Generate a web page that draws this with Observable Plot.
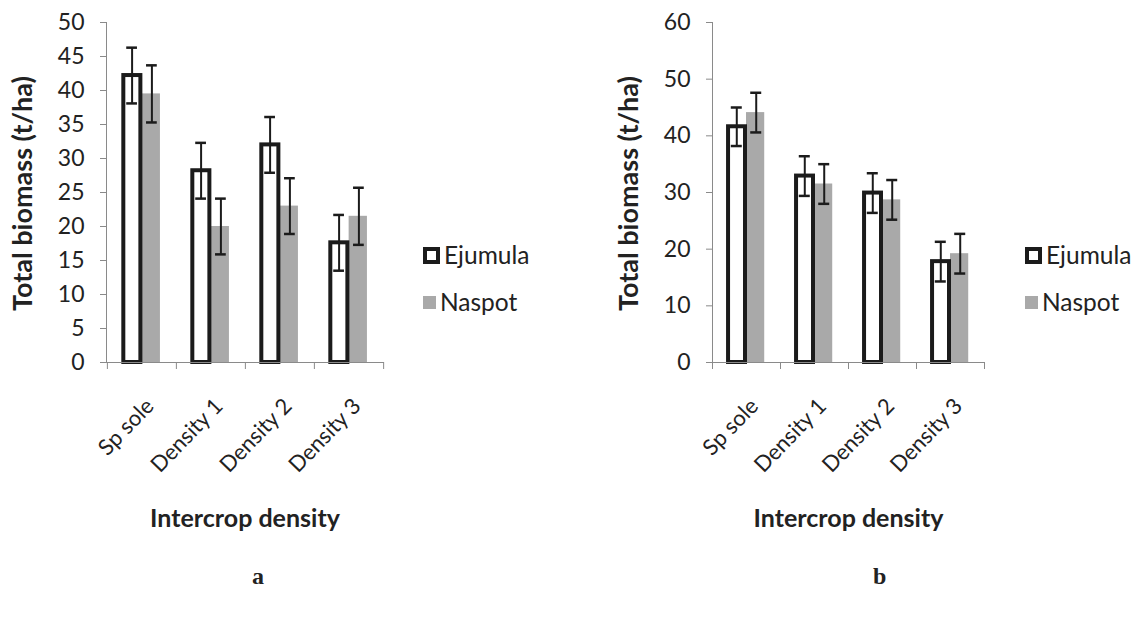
<!DOCTYPE html>
<html><head><meta charset="utf-8">
<script src="https://cdn.jsdelivr.net/npm/d3@7"></script>
<script src="https://cdn.jsdelivr.net/npm/@observablehq/plot@0.6"></script>
<style>
body{margin:0;background:#fff;width:1146px;height:618px;position:relative;overflow:hidden;font-family:Lato,"Open Sans",sans-serif;color:#222}
.panel{position:absolute;top:0}
.legend{position:absolute;font-size:24.5px;line-height:1}
.legend .row{display:flex;align-items:center;height:24px;margin-bottom:23px}
.sw{width:13px;height:13px;margin-right:4px;box-sizing:border-box}
.letter{position:absolute;font-family:"Liberation Serif",serif;font-weight:bold;font-size:24px}
</style>
</head><body>
<div id="pa" class="panel" style="left:0"></div>
<div id="pb" class="panel" style="left:606px"></div>
<div class="legend" style="left:423px;top:243px">
  <div class="row"><div class="sw" style="border:4px solid #1b1b1b;background:#fff;width:17px;height:17px"></div>Ejumula</div>
  <div class="row"><div class="sw" style="background:#a9a9a9"></div>Naspot</div>
</div>
<div class="legend" style="left:1025px;top:243px">
  <div class="row"><div class="sw" style="border:4px solid #1b1b1b;background:#fff;width:17px;height:17px"></div>Ejumula</div>
  <div class="row"><div class="sw" style="background:#a9a9a9"></div>Naspot</div>
</div>
<div class="letter" style="left:252px;top:563px">a</div>
<div class="letter" style="left:873px;top:563px">b</div>
<script>
const categories = ["Sp sole", "Density 1", "Density 2", "Density 3"];
const seriesNames = ["Ejumula", "Naspot"];
const aEjumula = [42.2, 28.2, 32.0, 17.6];
const aEjumulaErr = [4.1, 4.1, 4.1, 4.1];
const aNaspot = [39.5, 20.0, 23.0, 21.5];
const aNaspotErr = [4.2, 4.1, 4.1, 4.2];
const bEjumula = [41.6, 32.9, 29.9, 17.8];
const bEjumulaErr = [3.4, 3.5, 3.5, 3.5];
const bNaspot = [44.1, 31.5, 28.7, 19.2];
const bNaspotErr = [3.5, 3.5, 3.5, 3.5];
const aYTicks = [0, 5, 10, 15, 20, 25, 30, 35, 40, 45, 50];
const bYTicks = [0, 10, 20, 30, 40, 50, 60];
const yTitle = "Total biomass (t/ha)";
const xTitle = "Intercrop density";

function rows(vals, errs) {
  return categories.map((c, i) => ({cat: c, v: vals[i], lo: vals[i] - errs[i], hi: vals[i] + errs[i]}));
}

function panel({e, eErr, n, nErr, yTicks, yMax, ml, plotW, mr}) {
  const mt = 22, mb = 256, plotH = 340;
  const bw = plotW / categories.length;
  const E = rows(e, eErr), N = rows(n, nErr);
  const ink = "#1b1b1b", axis = "#8a8a8a";
  const off = 0.143 * bw;
  const capIn = bw / 2 - 5.5;
  return Plot.plot({
    width: ml + plotW + mr, height: mt + plotH + mb,
    marginLeft: ml, marginRight: mr, marginTop: mt, marginBottom: mb,
    style: {fontFamily: "Lato, 'Open Sans', sans-serif", color: "#222", background: "transparent"},
    x: {type: "band", domain: categories, padding: 0, axis: null},
    y: {domain: [0, yMax], axis: null},
    marks: [
      Plot.barY(N, {x: "cat", y: "v", fill: "#a9a9a9", insetLeft: 0.5 * bw, insetRight: 0.232 * bw}),
      Plot.barY(E, {x: "cat", y: "v", fill: "white", stroke: ink, strokeWidth: 4, insetLeft: 0.214 * bw + 1.5, insetRight: 0.5 * bw + 1}),
      Plot.ruleX(E, {x: "cat", y1: "lo", y2: "hi", dx: -off, stroke: ink, strokeWidth: 2}),
      Plot.tickY(E, {x: "cat", y: "hi", dx: -off, insetLeft: capIn, insetRight: capIn, stroke: ink, strokeWidth: 2.5}),
      Plot.tickY(E, {x: "cat", y: "lo", dx: -off, insetLeft: capIn, insetRight: capIn, stroke: ink, strokeWidth: 2.5}),
      Plot.ruleX(N, {x: "cat", y1: "lo", y2: "hi", dx: off, stroke: ink, strokeWidth: 2}),
      Plot.tickY(N, {x: "cat", y: "hi", dx: off, insetLeft: capIn, insetRight: capIn, stroke: ink, strokeWidth: 2.5}),
      Plot.tickY(N, {x: "cat", y: "lo", dx: off, insetLeft: capIn, insetRight: capIn, stroke: ink, strokeWidth: 2.5}),
      Plot.frame({anchor: "left", stroke: axis}),
      Plot.frame({anchor: "bottom", stroke: axis}),
      Plot.axisY({ticks: yTicks, tickSize: 6, tickPadding: 16, fontSize: 23, stroke: axis, fill: "#222", label: null}),
      Plot.axisX(categories, {tickSize: 7, dx: -bw / 2, fill: "none", stroke: axis, label: null}),
      Plot.axisX([categories[categories.length - 1]], {tickSize: 7, dx: bw / 2, fill: "none", stroke: axis, label: null}),
      Plot.text(categories, {x: d => d, frameAnchor: "bottom", rotate: -46, textAnchor: "end", lineAnchor: "middle", dx: 8, dy: 40, fontSize: 22, fill: "#222"}),
      Plot.text([yTitle], {frameAnchor: "left", rotate: -90, textAnchor: "middle", lineAnchor: "middle", dx: -(ml - 23), dy: 1, fontSize: 27, fontWeight: "bold", fill: "#222"}),
      Plot.text([xTitle], {frameAnchor: "bottom", textAnchor: "middle", lineAnchor: "middle", dy: 156, fontSize: 25, fontWeight: "bold", fill: "#222"})
    ]
  });
}

document.getElementById("pa").append(panel({e: aEjumula, eErr: aEjumulaErr, n: aNaspot, nErr: aNaspotErr, yTicks: aYTicks, yMax: 50, ml: 106, plotW: 277, mr: 20}));
document.getElementById("pb").append(panel({e: bEjumula, eErr: bEjumulaErr, n: bNaspot, nErr: bNaspotErr, yTicks: bYTicks, yMax: 60, ml: 106, plotW: 272, mr: 20}));
</script>
</body></html>
